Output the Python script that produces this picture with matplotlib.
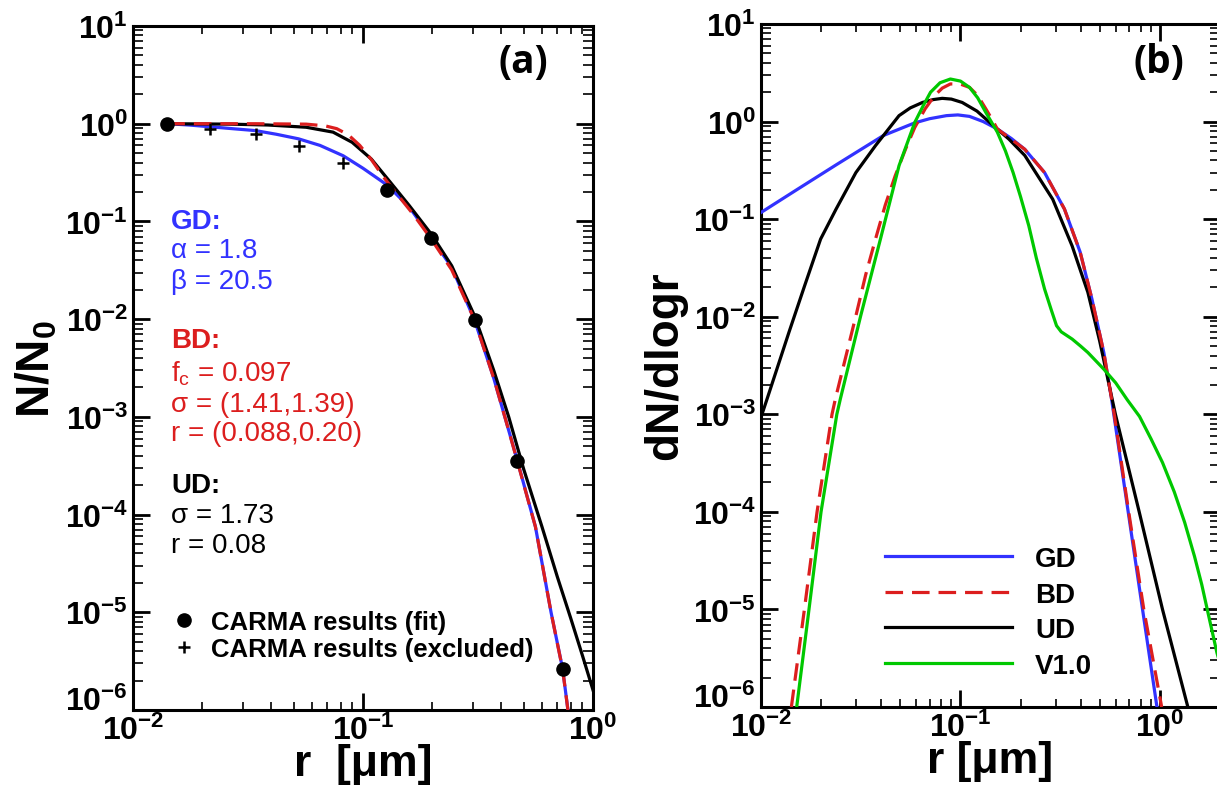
import numpy as np
import matplotlib
matplotlib.use('Agg')
import matplotlib.pyplot as plt
from matplotlib.ticker import LogLocator, FixedLocator, FuncFormatter, NullFormatter

plt.rcParams['font.family'] = ['Liberation Sans', 'DejaVu Sans']
plt.rcParams['mathtext.fontset'] = 'custom'
plt.rcParams['mathtext.rm'] = 'Liberation Sans'
plt.rcParams['mathtext.it'] = 'Liberation Sans:italic'
plt.rcParams['mathtext.bf'] = 'Liberation Sans:bold'

# ---- panel (a): cumulative number fraction N/N0 ----
carma_fit_r = [0.0141, 0.1276, 0.198, 0.3055, 0.469, 0.738]
carma_fit_n = [1.0, 0.211, 0.0676, 0.0098, 3.56e-4, 2.63e-6]
carma_excl_r = [0.0217, 0.0341, 0.0525, 0.082]
carma_excl_n = [0.883, 0.785, 0.596, 0.393]

gd_cum_r = [0.0141, 0.0175, 0.0217, 0.027, 0.0341, 0.042, 0.0525, 0.065, 0.082,
            0.10, 0.1276, 0.159, 0.198, 0.243, 0.3055, 0.37, 0.419, 0.469, 0.562,
            0.657, 0.738, 0.778]
gd_cum_n = [1.0, 0.97, 0.93, 0.89, 0.85, 0.78, 0.70, 0.60, 0.47,
            0.35, 0.235, 0.14, 0.068, 0.034, 0.0098, 2.5e-3, 9e-4, 3.56e-4, 7.5e-5,
            1.0e-5, 2.63e-6, 1.0e-6]

bd_cum_r = [0.0141, 0.0341, 0.0566, 0.0686, 0.0769, 0.0863, 0.0968, 0.1087, 0.122,
            0.142, 0.1655, 0.198, 0.243, 0.3055, 0.37, 0.419, 0.469, 0.562, 0.657,
            0.738, 0.778]
bd_cum_n = [1.0, 1.0, 0.99, 0.95, 0.89, 0.77, 0.60, 0.43, 0.29,
            0.185, 0.118, 0.066, 0.032, 0.0098, 2.5e-3, 9e-4, 3.5e-4, 7.5e-5, 1.0e-5,
            2.6e-6, 1.0e-6]

ud_cum_r = [0.0141, 0.0263, 0.0386, 0.0566, 0.0741, 0.0897, 0.1087, 0.1316, 0.159,
            0.198, 0.243, 0.3055, 0.37, 0.43, 0.50, 0.60, 0.70, 0.80, 0.90, 1.0]
ud_cum_n = [1.0, 0.99, 0.97, 0.92, 0.82, 0.645, 0.435, 0.251, 0.145,
            0.0743, 0.0352, 0.0108, 3.0e-3, 1.0e-3, 2.9e-4, 7.5e-5, 2.3e-5, 8.7e-6,
            3.6e-6, 1.6e-6]

# ---- panel (b): size distributions dN/dlogr ----
gd_r = [0.01, 0.0151, 0.0238, 0.0411, 0.059, 0.07, 0.085, 0.097, 0.111, 0.13,
        0.153, 0.18, 0.21, 0.264, 0.332, 0.398, 0.456, 0.523, 0.572, 0.587,
        0.693, 0.818, 0.966]
gd_dn = [0.117, 0.20, 0.36, 0.72, 0.97, 1.07, 1.15, 1.17, 1.13, 1.0,
         0.84, 0.67, 0.52, 0.30, 0.127, 0.046, 0.0152, 4.3e-3, 1.44e-3, 1.0e-3,
         1.0e-4, 1.0e-5, 1.0e-6]

bd_r = [0.0142, 0.0165, 0.0191, 0.0227, 0.0236, 0.0299, 0.0335, 0.0375, 0.042,
        0.0471, 0.053, 0.059, 0.0665, 0.0741, 0.081, 0.089, 0.10, 0.111, 0.122,
        0.134, 0.144, 0.153, 0.21, 0.264, 0.332, 0.398, 0.456, 0.523, 0.572,
        0.59, 0.697, 0.83, 1.02]
bd_dn = [1.0e-6, 1.0e-5, 1.0e-4, 1.0e-3, 1.44e-3, 0.0102, 0.027, 0.0625, 0.14,
         0.279, 0.52, 0.87, 1.35, 1.84, 2.2, 2.43, 2.42, 2.24, 1.85,
         1.35, 1.05, 0.84, 0.52, 0.30, 0.127, 0.046, 0.0152, 4.3e-3, 1.44e-3,
         1.0e-3, 1.0e-4, 1.0e-5, 1.0e-6]

ud_r = [0.01, 0.011, 0.0138, 0.01655, 0.0199, 0.0238, 0.0299, 0.0375, 0.0492,
        0.056, 0.0645, 0.073, 0.081, 0.09, 0.102, 0.121, 0.146, 0.175, 0.21,
        0.29, 0.363, 0.435, 0.499, 0.598, 0.787, 1.03, 1.38]
ud_dn = [9.3e-4, 1.68e-3, 6.9e-3, 0.0208, 0.0625, 0.127, 0.30, 0.567, 1.15,
         1.38, 1.57, 1.68, 1.73, 1.70, 1.57, 1.28, 0.91, 0.66, 0.45,
         0.16, 0.053, 0.0178, 5.6e-3, 1.0e-3, 1.0e-4, 1.0e-5, 1.0e-6]

v10_r = [0.0151, 0.0174, 0.0200, 0.0240, 0.0250, 0.0316, 0.0397, 0.0492, 0.059,
         0.065, 0.0708, 0.079, 0.089, 0.10, 0.111, 0.122, 0.134, 0.153, 0.168,
         0.1836, 0.20, 0.220, 0.24, 0.264, 0.285, 0.303, 0.32, 0.363, 0.40,
         0.435, 0.523, 0.60, 0.687, 0.79, 0.902, 1.03, 1.18, 1.33, 1.49, 1.62,
         1.74, 1.93, 2.0]
v10_dn = [1.0e-6, 1.0e-5, 1.0e-4, 1.0e-3, 1.44e-3, 0.0102, 0.0625, 0.353, 0.98,
          1.45, 2.0, 2.5, 2.73, 2.6, 2.24, 1.75, 1.24, 0.78, 0.50,
          0.30, 0.17, 0.0857, 0.040, 0.0192, 0.0118, 8.1e-3, 7.0e-3, 5.9e-3, 5.0e-3,
          4.3e-3, 2.9e-3, 2.1e-3, 1.4e-3, 9.5e-4, 5.6e-4, 3.2e-4, 1.6e-4, 7.8e-5, 3.5e-5,
          1.8e-5, 9.3e-6, 3.6e-6, 2.8e-6]

BLUE = '#3232ff'
RED = '#dc1e1e'
GREEN = '#00c800'
W, H = 1217, 803
LW = 2.3
DASH = (0, (5.5, 2.8))


def fxy(x, y):
    # figure pixel position (from top-left) -> figure fraction
    return x / W, 1 - y / H


def decade_label(v, pos):
    return r'$\mathbf{10^{%d}}$' % int(round(np.log10(v)))


def decades(lo, hi):
    # powers of ten that fall inside [lo, hi]
    e = np.arange(np.floor(np.log10(lo)), np.ceil(np.log10(hi)) + 1)
    v = 10.0 ** e
    return v[(v >= lo * 0.999) & (v <= hi * 1.001)]


def style_axes(ax, xlim, ylim=(1e-6, 1e1)):
    ax.set_xscale('log')
    ax.set_yscale('log')
    ax.set_xlim(*xlim)
    ax.set_ylim(*ylim)
    for axis, lim in ((ax.xaxis, xlim), (ax.yaxis, ylim)):
        axis.set_major_locator(FixedLocator(decades(*lim)))
        axis.set_minor_locator(LogLocator(base=10, subs=np.arange(2, 10), numticks=20))
        axis.set_major_formatter(FuncFormatter(decade_label))
        axis.set_minor_formatter(NullFormatter())
    ax.tick_params(which='both', direction='in', top=True, right=True)
    ax.tick_params(which='major', length=12, width=2.0, labelsize=23, pad=3.5)
    ax.tick_params(which='minor', length=6, width=1.2)
    ax.tick_params(axis='y', which='minor', length=7)
    for sp in ax.spines.values():
        sp.set_linewidth(2.2)


def seat_bottom_label(ax):
    # sit the 1e-6 label on its tick so it clears the x tick labels
    locs = ax.yaxis.get_majorticklocs()
    ticks = ax.yaxis.get_major_ticks(len(locs))
    for t, loc in zip(ticks, locs):
        if abs(np.log10(loc) + 6) < 1e-6:
            t.label1.set_verticalalignment('baseline')


fig = plt.figure(figsize=(W / 100, H / 100), dpi=100)
ax_a = fig.add_axes([133 / W, 1 - 711 / H, 460 / W, 684 / H])
ax_b = fig.add_axes([761 / W, 1 - 708 / H, 459 / W, 683 / H])

# panel (a)
style_axes(ax_a, (1e-2, 1e0))
ax_a.plot(gd_cum_r, gd_cum_n, color=BLUE, lw=LW, zorder=3)
ax_a.plot(ud_cum_r, ud_cum_n, color='black', lw=LW, zorder=3)
ax_a.plot(bd_cum_r, bd_cum_n, color=RED, lw=LW, ls=DASH, zorder=4)
fit_pts, = ax_a.plot(carma_fit_r, carma_fit_n, 'o', color='black', ms=9.5, zorder=5,
                     label='CARMA results (fit)')
excl_pts, = ax_a.plot(carma_excl_r, carma_excl_n, '+', color='black', ms=9, mew=1.8,
                      zorder=5, label='CARMA results (excluded)')
ax_a.legend(handles=[fit_pts, excl_pts], loc='upper left',
            bbox_to_anchor=fxy(171, 611), bbox_transform=fig.transFigure,
            frameon=False, borderpad=0, borderaxespad=0, handlelength=1.0,
            handletextpad=0.55, labelspacing=0.13,
            prop={'weight': 'bold', 'size': 18.5})

fig.text(*fxy(523, 63), '(a)', family='Open Sans', weight='bold', size=28,
         ha='center', va='center')

ann_x = 171
ann = [
    ('GD:', 222, BLUE, 'bold'),
    (u'\u03b1 = 1.8', 251, BLUE, 'normal'),
    (u'\u03b2 = 20.5', 282, BLUE, 'normal'),
    ('BD:', 341, RED, 'bold'),
    (r'f$_{\rm c}$ = 0.097', 374, RED, 'normal'),
    (u'\u03c3 = (1.41,1.39)', 405, RED, 'normal'),
    ('r = (0.088,0.20)', 434, RED, 'normal'),
    ('UD:', 486, 'black', 'bold'),
    (u'\u03c3 = 1.73', 516, 'black', 'normal'),
    ('r = 0.08', 546, 'black', 'normal'),
]
for s, y, c, wt in ann:
    fig.text(*fxy(ann_x, y), s, color=c, weight=wt, size=20, ha='left', va='center')

ax_a.set_xlabel(u'r  [\u03bcm]', fontsize=32, weight='bold', labelpad=-2)
fig.text(*fxy(37, 369), r'N/N$_{\mathbf{0}}$', rotation=90, size=33, weight='bold',
         ha='center', va='center')

# panel (b)
style_axes(ax_b, (1e-2, 2.0))
ax_b.plot(gd_r, gd_dn, color=BLUE, lw=LW, label='GD', zorder=3)
ax_b.plot(bd_r, bd_dn, color=RED, lw=LW, ls=DASH, label='BD', zorder=4)
ax_b.plot(ud_r, ud_dn, color='black', lw=LW, label='UD', zorder=3)
ax_b.plot(v10_r, v10_dn, color=GREEN, lw=LW, label='V1.0', zorder=5)
ax_b.legend(loc='upper left', bbox_to_anchor=fxy(885, 547),
            bbox_transform=fig.transFigure, frameon=False, borderpad=0,
            borderaxespad=0, handlelength=4.57, handletextpad=0.83,
            labelspacing=0.345, prop={'weight': 'bold', 'size': 20})

fig.text(*fxy(1159, 63), '(b)', family='Open Sans', weight='bold', size=28,
         ha='center', va='center')

ax_b.set_xlabel(u'r [\u03bcm]', fontsize=32, weight='bold', labelpad=-2)
fig.text(*fxy(665, 366), 'dN/dlogr', rotation=90, size=33, weight='bold',
         ha='center', va='center')

seat_bottom_label(ax_a)
seat_bottom_label(ax_b)

fig.savefig('out.png', dpi=100)
